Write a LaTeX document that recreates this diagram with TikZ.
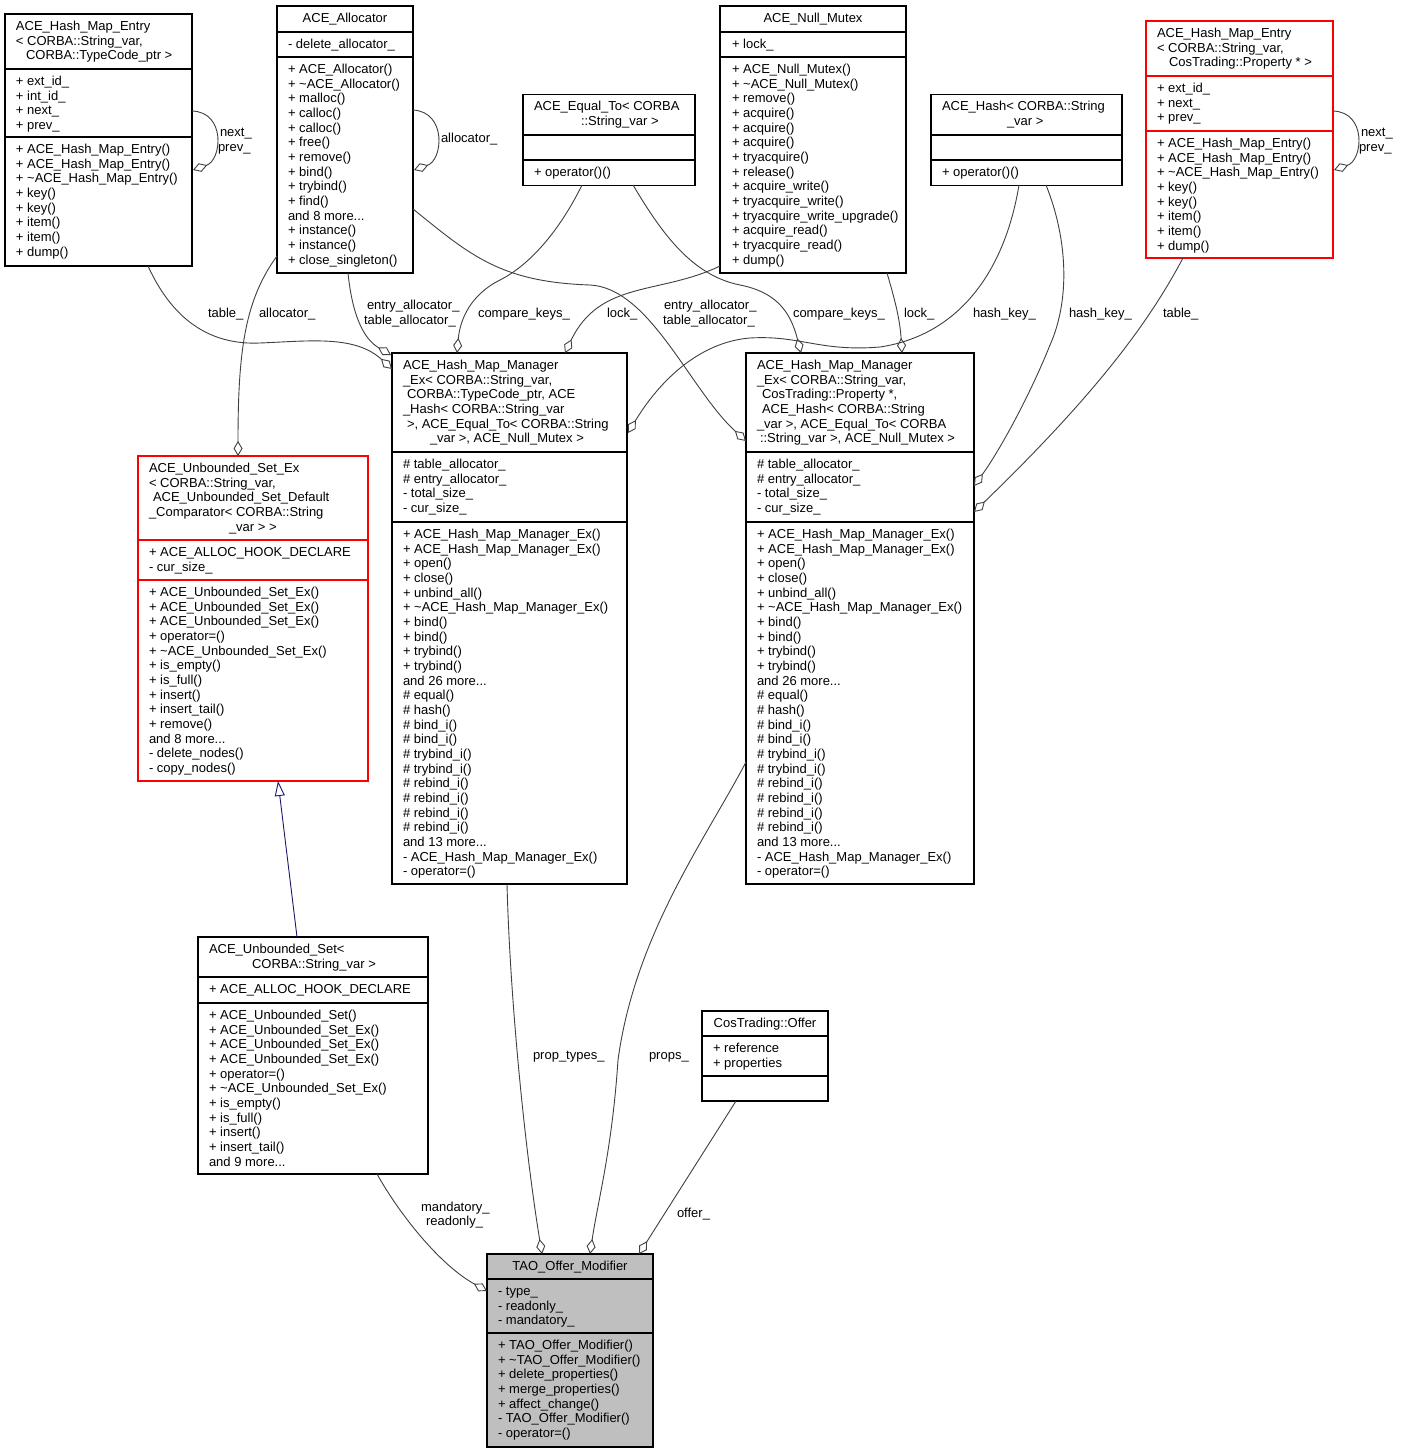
\documentclass[tikz,border=0pt]{standalone}
\usepackage{fontspec}
\setmainfont{Liberation Sans}
\usetikzlibrary{arrows.meta}
\definecolor{edgegray}{HTML}{404040}
\definecolor{inhblue}{HTML}{191970}
\definecolor{grayfill}{HTML}{BFBFBF}
\definecolor{boxred}{HTML}{FF0000}
\newcommand\mdots{...}
\newcommand\tld{\textasciitilde}
% #1 name prefix, #2 x, #3 first baseline, #4 list of lines
\newcommand\blines[4]{%
  \foreach \mytext [count=\myi from 0] in {#4}{%
    \node[txt] (#1\myi) at (#2,{#3+\myi*14.67}) {\mytext};}}
% #1 name, #2 x, #3 ytop, #4 width, #5 height, #6 divider1, #7 divider2, #8 style
\newcommand\classbox[8]{%
  \node[cbox,#8,anchor=north west,minimum width=#4pt,minimum height=#5pt] (#1) at (#2,#3) {};
  \draw[cbox,#8] (#2,#6) -- ++(#4,0) (#2,#7) -- ++(#4,0);}
\begin{document}
\catcode`\_=12
\begin{tikzpicture}[x=1pt,y=-1pt,
  cbox/.style={draw=black,line width=1.1pt,inner sep=0pt,outer sep=0pt},
  txt/.style={anchor=base west,inner sep=0pt,outer sep=0pt,font=\fontsize{13}{14.67}\selectfont},
  ctxt/.style={txt,anchor=base},
  agg/.style={draw=edgegray,line width=0.9pt,-{Diamond[open,length=15pt,width=9pt]}},
  inh/.style={draw=inhblue,line width=0.9pt,-{Triangle[open,length=15pt,width=10pt]}}]
\fill[white] (0,0) rectangle (1400,1453);
\useasboundingbox (0,0) rectangle (1400,1453);

% ---------- boxes ----------
\classbox{hme1}{5}{14}{187}{252}{69}{137}{draw=black}
\node[txt] (hme1t0) at (16,30.5) {ACE_Hash_Map_Entry};
\node[txt] (hme1t1) at (16,45.2) {< CORBA::String_var,};
\node[txt] (hme1t2) at (26,59.8) {CORBA::TypeCode_ptr >};
\blines{hme1a}{16}{85.5}{+ ext_id_,+ int_id_,+ next_,+ prev_}
\blines{hme1m}{16}{153.5}{+ ACE_Hash_Map_Entry(),+ ACE_Hash_Map_Entry(),+ \tld ACE_Hash_Map_Entry(),+ key(),+ key(),+ item(),+ item(),+ dump()}

\classbox{alloc}{277}{6}{136}{267}{32}{57}{draw=black}
\node[ctxt] (alloct) at (345,22.5) {ACE_Allocator};
\blines{alloca}{288}{48.5}{- delete_allocator_}
\blines{allocm}{288}{73.5}{+ ACE_Allocator(),+ \tld ACE_Allocator(),+ malloc(),+ calloc(),+ calloc(),+ free(),+ remove(),+ bind(),+ trybind(),+ find(),and 8 more\mdots,+ instance(),+ instance(),+ close_singleton()}

\classbox{eqto}{523}{94.5}{172}{91}{135}{160}{draw=black}
\node[txt] (eqtot0) at (534,111) {ACE_Equal_To< CORBA};
\node[txt] (eqtot1) at (581,125.7) {::String_var >};
\blines{eqtom}{534}{176.5}{+ operator()()}

\classbox{nmutex}{720}{6}{186}{267}{32}{57}{draw=black}
\node[ctxt] (nmutext) at (813,22.5) {ACE_Null_Mutex};
\blines{nmutexa}{732}{48.5}{+ lock_}
\blines{nmutexm}{732}{73.5}{+ ACE_Null_Mutex(),+ \tld ACE_Null_Mutex(),+ remove(),+ acquire(),+ acquire(),+ acquire(),+ tryacquire(),+ release(),+ acquire_write(),+ tryacquire_write(),+ tryacquire_write_upgrade(),+ acquire_read(),+ tryacquire_read(),+ dump()}

\classbox{ahash}{931}{94.5}{191}{91}{135}{160}{draw=black}
\node[txt] (ahasht0) at (942,111) {ACE_Hash< CORBA::String};
\node[txt] (ahasht1) at (1007,125.7) {_var >};
\blines{ahashm}{942}{176.5}{+ operator()()}

\classbox{hme2}{1146}{21}{187}{237}{76}{131}{draw=boxred}
\node[txt] (hme2t0) at (1157,37.5) {ACE_Hash_Map_Entry};
\node[txt] (hme2t1) at (1157,52.2) {< CORBA::String_var,};
\node[txt] (hme2t2) at (1169,66.8) {CosTrading::Property * >};
\blines{hme2a}{1157}{92.5}{+ ext_id_,+ next_,+ prev_}
\blines{hme2m}{1157}{147.5}{+ ACE_Hash_Map_Entry(),+ ACE_Hash_Map_Entry(),+ \tld ACE_Hash_Map_Entry(),+ key(),+ key(),+ item(),+ item(),+ dump()}

\classbox{mgr1}{392}{353}{235}{531}{452}{522}{draw=black}
\node[txt] (mgr1t0) at (403,369.5) {ACE_Hash_Map_Manager};
\node[txt] (mgr1t1) at (403,384.2) {_Ex< CORBA::String_var,};
\node[txt] (mgr1t2) at (407,398.8) {CORBA::TypeCode_ptr, ACE};
\node[txt] (mgr1t3) at (403,413.5) {_Hash< CORBA::String_var};
\node[txt] (mgr1t4) at (407,428.2) {>, ACE_Equal_To< CORBA::String};
\node[txt] (mgr1t5) at (430,442.8) {_var >, ACE_Null_Mutex >};
\blines{mgr1a}{403}{468.5}{\# table_allocator_,\# entry_allocator_,- total_size_,- cur_size_}
\blines{mgr1m}{403}{538.5}{+ ACE_Hash_Map_Manager_Ex(),+ ACE_Hash_Map_Manager_Ex(),+ open(),+ close(),+ unbind_all(),+ \tld ACE_Hash_Map_Manager_Ex(),+ bind(),+ bind(),+ trybind(),+ trybind(),and 26 more\mdots,\# equal(),\# hash(),\# bind_i(),\# bind_i(),\# trybind_i(),\# trybind_i(),\# rebind_i(),\# rebind_i(),\# rebind_i(),\# rebind_i(),and 13 more\mdots,- ACE_Hash_Map_Manager_Ex(),- operator=()}

\classbox{mgr2}{746}{353}{228}{531}{452}{522}{draw=black}
\node[txt] (mgr2t0) at (757,369.5) {ACE_Hash_Map_Manager};
\node[txt] (mgr2t1) at (757,384.2) {_Ex< CORBA::String_var,};
\node[txt] (mgr2t2) at (762,398.8) {CosTrading::Property *,};
\node[txt] (mgr2t3) at (762,413.5) {ACE_Hash< CORBA::String};
\node[txt] (mgr2t4) at (757,428.2) {_var >, ACE_Equal_To< CORBA};
\node[txt] (mgr2t5) at (760,442.8) {::String_var >, ACE_Null_Mutex >};
\blines{mgr2a}{757}{468.5}{\# table_allocator_,\# entry_allocator_,- total_size_,- cur_size_}
\blines{mgr2m}{757}{538.5}{+ ACE_Hash_Map_Manager_Ex(),+ ACE_Hash_Map_Manager_Ex(),+ open(),+ close(),+ unbind_all(),+ \tld ACE_Hash_Map_Manager_Ex(),+ bind(),+ bind(),+ trybind(),+ trybind(),and 26 more\mdots,\# equal(),\# hash(),\# bind_i(),\# bind_i(),\# trybind_i(),\# trybind_i(),\# rebind_i(),\# rebind_i(),\# rebind_i(),\# rebind_i(),and 13 more\mdots,- ACE_Hash_Map_Manager_Ex(),- operator=()}

\classbox{usetex}{138}{456}{230}{325}{540}{580}{draw=boxred}
\node[txt] (usetext0) at (149,472.5) {ACE_Unbounded_Set_Ex};
\node[txt] (usetext1) at (149,487.2) {< CORBA::String_var,};
\node[txt] (usetext2) at (153,501.8) {ACE_Unbounded_Set_Default};
\node[txt] (usetext3) at (149,516.5) {_Comparator< CORBA::String};
\node[txt] (usetext4) at (229,531.2) {_var > >};
\blines{usetexa}{149}{556.5}{+ ACE_ALLOC_HOOK_DECLARE,- cur_size_}
\blines{usetexm}{149}{596.5}{+ ACE_Unbounded_Set_Ex(),+ ACE_Unbounded_Set_Ex(),+ ACE_Unbounded_Set_Ex(),+ operator=(),+ \tld ACE_Unbounded_Set_Ex(),+ is_empty(),+ is_full(),+ insert(),+ insert_tail(),+ remove(),and 8 more\mdots,- delete_nodes(),- copy_nodes()}

\classbox{uset}{198}{937}{230}{237}{977}{1003}{draw=black}
\node[txt] (usett0) at (209,953.5) {ACE_Unbounded_Set<};
\node[txt] (usett1) at (252,968.2) {CORBA::String_var >};
\blines{useta}{209}{993.5}{+ ACE_ALLOC_HOOK_DECLARE}
\blines{usetm}{209}{1019.5}{+ ACE_Unbounded_Set(),+ ACE_Unbounded_Set_Ex(),+ ACE_Unbounded_Set_Ex(),+ ACE_Unbounded_Set_Ex(),+ operator=(),+ \tld ACE_Unbounded_Set_Ex(),+ is_empty(),+ is_full(),+ insert(),+ insert_tail(),and 9 more\mdots}

\classbox{offer}{702}{1011}{126}{90}{1036}{1076}{draw=black}
\node[ctxt] (offert) at (765,1027.5) {CosTrading::Offer};
\blines{offera}{713}{1052.5}{+ reference,+ properties}

\classbox{tao}{487}{1254}{166}{193}{1279}{1333}{draw=black,fill=grayfill}
\node[ctxt] (taot) at (570,1270.5) {TAO_Offer_Modifier};
\blines{taoa}{498}{1295.5}{- type_,- readonly_,- mandatory_}
\blines{taom}{498}{1349.5}{+ TAO_Offer_Modifier(),+ \tld TAO_Offer_Modifier(),+ delete_properties(),+ merge_properties(),+ affect_change(),- TAO_Offer_Modifier(),- operator=()}

% ---------- connector end points ----------
\coordinate (hme1ls) at (192,111);   \coordinate (hme1le) at (193,170);
\coordinate (allocls) at (413,110);  \coordinate (allocle) at (414,170);
\coordinate (hme2ls) at (1333,111);  \coordinate (hme2le) at (1334,170);
\coordinate (tab1s) at (148,266);    \coordinate (tab1e) at (392,369);
\coordinate (ent1s) at (348,273);    \coordinate (ent1e) at (391,355);
\coordinate (aus) at (277,256);      \coordinate (aue) at (238,456);
\coordinate (cmp1s) at (582,185);    \coordinate (cmp1e) at (457,353);
\coordinate (lck1s) at (720,266);    \coordinate (lck1e) at (565,353);
\coordinate (ent2s) at (413,209);    \coordinate (ent2e) at (746,441);
\coordinate (cmp2s) at (633,185);    \coordinate (cmp2e) at (801,353);
\coordinate (lck2s) at (887,273);    \coordinate (lck2e) at (902,353);
\coordinate (hk1s) at (1019,185);    \coordinate (hk1e) at (628,433);
\coordinate (hk2s) at (1046,185);    \coordinate (hk2e) at (974,486);
\coordinate (tab2s) at (1183,258);   \coordinate (tab2e) at (974,512);
\coordinate (ptys) at (507,884);     \coordinate (ptye) at (542,1254);
\coordinate (prps) at (746,762);     \coordinate (prpe) at (590,1254);
\coordinate (offs) at (736,1101);    \coordinate (offe) at (639,1254);
\coordinate (mans) at (377,1174);    \coordinate (mane) at (487,1291);
\coordinate (inhs) at (297,937);     \coordinate (inhe) at (278,781);

% ---------- connectors ----------
\draw[agg] (hme1ls) .. controls (226,112) and (222,160) .. (hme1le);
\draw[agg] (allocls) .. controls (447,112) and (443,160) .. (allocle);
\draw[agg] (hme2ls) .. controls (1367,112) and (1363,160) .. (hme2le);
\draw[agg] (tab1s) .. controls (175,325) and (215,345) .. (260,343) .. controls (310,341) and (355,335) .. (tab1e);
\draw[agg] (ent1s) .. controls (352,312) and (362,338) .. (ent1e);
\draw[agg] (aus) .. controls (245,300) and (238,350) .. (aue);
\draw[agg] (cmp1s) .. controls (560,230) and (530,265) .. (500,280) .. controls (470,295) and (460,320) .. (cmp1e);
\draw[agg] (lck1s) .. controls (660,295) and (600,280) .. (lck1e);
\draw[agg] (ent2s) .. controls (470,255) and (500,282) .. (590,285) .. controls (650,288) and (690,390) .. (ent2e);
\draw[agg] (cmp2s) .. controls (660,230) and (690,275) .. (740,285) .. controls (775,292) and (790,310) .. (cmp2e);
\draw[agg] (lck2s) .. controls (895,300) and (900,320) .. (lck2e);
\draw[agg] (hk1s) .. controls (1005,270) and (960,335) .. (880,347) .. controls (820,352) and (800,335) .. (750,338) .. controls (700,342) and (660,380) .. (hk1e);
\draw[agg] (hk2s) .. controls (1068,240) and (1070,300) .. (1050,345) .. controls (1030,395) and (1000,450) .. (hk2e);
\draw[agg] (tab2s) .. controls (1150,320) and (1100,390) .. (tab2e);
\draw[agg] (ptys) .. controls (510,1000) and (525,1150) .. (ptye);
\draw[agg] (prps) .. controls (705,840) and (635,935) .. (618,1060) .. controls (612,1150) and (598,1200) .. (prpe);
\draw[agg] (offs) -- (offe);
\draw[agg] (mans) .. controls (400,1215) and (440,1265) .. (mane);
\draw[inh] (inhs) -- (inhe);

% ---------- connector labels ----------
\node[txt] (lb1) at (220,136.5) {next_};
\node[txt] (lb2) at (218,151.5) {prev_};
\node[txt] (lb3) at (441,142.5) {allocator_};
\node[txt] (lb4) at (1361,136.5) {next_};
\node[txt] (lb5) at (1359,151.5) {prev_};
\node[txt] (lb6) at (208,317.5) {table_};
\node[txt] (lb7) at (259,317.5) {allocator_};
\node[txt] (lb8) at (367,309.5) {entry_allocator_};
\node[txt] (lb9) at (364,324.5) {table_allocator_};
\node[txt] (lb10) at (478,317.5) {compare_keys_};
\node[txt] (lb11) at (607,317.5) {lock_};
\node[txt] (lb12) at (664,309.5) {entry_allocator_};
\node[txt] (lb13) at (663,324.5) {table_allocator_};
\node[txt] (lb14) at (793,317.5) {compare_keys_};
\node[txt] (lb15) at (904,317.5) {lock_};
\node[txt] (lb16) at (973,317.5) {hash_key_};
\node[txt] (lb17) at (1069,317.5) {hash_key_};
\node[txt] (lb18) at (1163,317.5) {table_};
\node[txt] (lb19) at (533,1059.5) {prop_types_};
\node[txt] (lb20) at (649,1059.5) {props_};
\node[txt] (lb21) at (677,1217.5) {offer_};
\node[txt] (lb22) at (421,1211.5) {mandatory_};
\node[txt] (lb23) at (426,1225.5) {readonly_};
\end{tikzpicture}
\end{document}
